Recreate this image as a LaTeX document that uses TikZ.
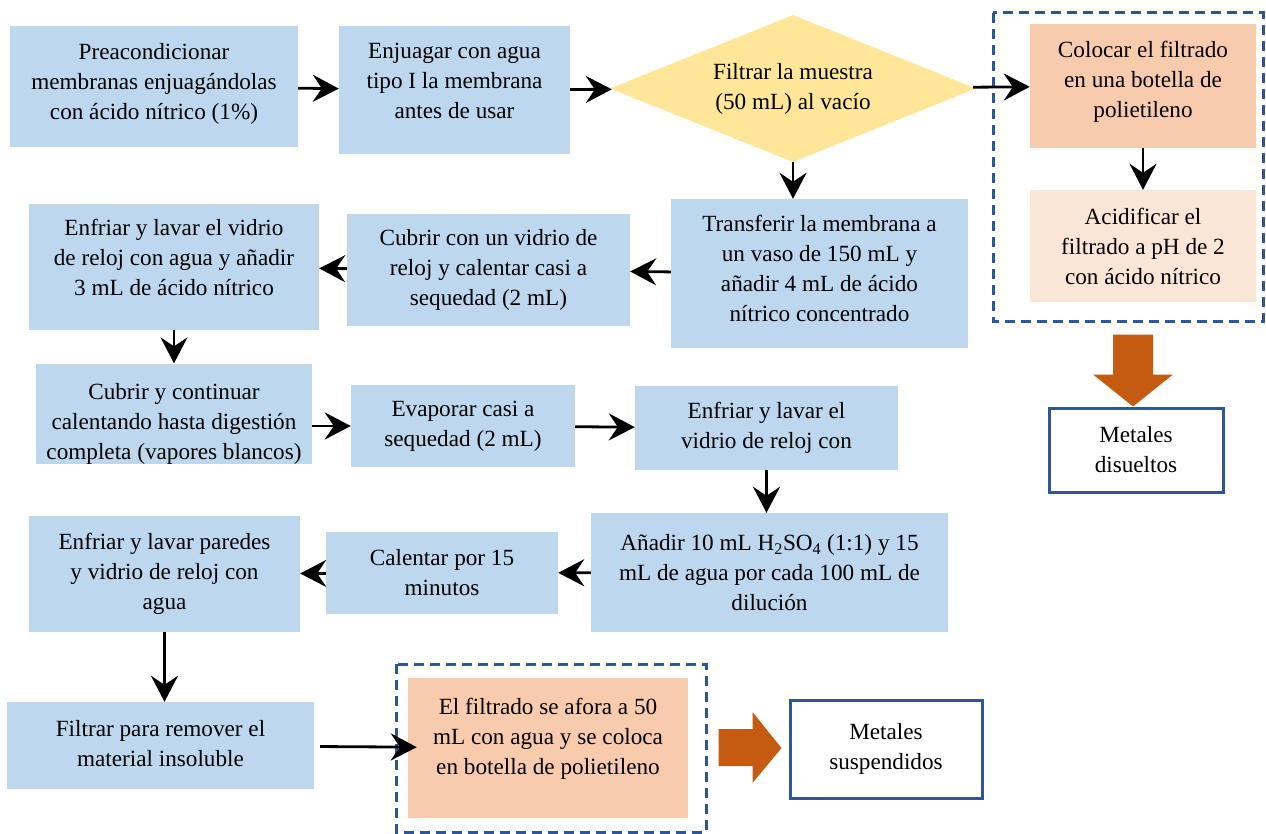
\documentclass[tikz,border=0pt]{standalone}
\usepackage{fontspec}
\setmainfont{Liberation Serif}
\usepackage{xcolor}
\usetikzlibrary{arrows.meta}
\usetikzlibrary{shapes.geometric}
\usetikzlibrary{positioning}

\definecolor{azul}{HTML}{BDD7EE}
\definecolor{amarillo}{HTML}{FFE699}
\definecolor{salmon}{HTML}{F8CBAD}
\definecolor{salmonclaro}{HTML}{FBE5D6}
\definecolor{naranja}{HTML}{C55A11}
\definecolor{marino}{HTML}{2F5597}

% extra depth under the last line pushes the text up in its box
\newcommand{\bajo}[1]{\rule[-#1]{0pt}{#1}}

\tikzset{
  tam/.style 2 args={minimum width=#1pt, minimum height=#2pt},
  paso/.style={fill=azul, align=center, inner sep=0pt},
  muestra/.style={fill=salmon, align=center, inner sep=0pt},
  acido/.style={fill=salmonclaro, align=center, inner sep=0pt},
  metal/.style={draw=marino, line width=3pt, fill=white, align=center, inner sep=0pt},
  marco/.style={draw=marino, line width=3pt, dash pattern=on 10pt off 6pt},
  flecha/.style={-{Stealth[length=26pt,width=27pt,inset=9pt]}, line width=2.8pt},
}

\begin{document}
\begin{tikzpicture}[x=1pt, y=-1pt, font=\fontsize{23.2}{30}\selectfont]
\useasboundingbox (0,0) rectangle (1266,834);

% first row
\node[paso, tam={288}{121}] (precond) at (154,86.5)
  {Preacondicionar\\membranas enjuagándolas\\con ácido nítrico (1\%)\bajo{11pt}};
\node[paso, tam={231}{128}] (enjuagar) at (454.5,90)
  {Enjuagar con agua\\tipo I la membrana\\antes de usar\bajo{18pt}};
\node[diamond, fill=amarillo, aspect=2.49, tam={366}{147}, inner sep=0pt, align=center] (filtrar) at (793,88.5)
  {Filtrar la muestra\\(50 mL) al vacío};

% dissolved metals
\draw[marco] (993,13) rectangle (1263,321);
\node[muestra, tam={226}{124}] (colocar) at (1143,86)
  {Colocar el filtrado\\en una botella de\\polietileno\bajo{13pt}};
\node[acido, tam={226}{112}] (acidificar) at (1143,246)
  {Acidificar el\\filtrado a pH de 2\\con ácido nítrico};
\node[metal, tam={174}{84}] (disueltos) at (1136,450) {Metales\\disueltos};

% digestion
\node[paso, tam={297}{149}] (transferir) at (819.5,273.5)
  {Transferir la membrana a\\un vaso de 150 mL y\\añadir 4 mL de ácido\\nítrico concentrado\bajo{10pt}};
\node[paso, tam={283}{112}] (cubrir) at (488.5,270)
  {Cubrir con un vidrio de\\reloj y calentar casi a\\sequedad (2 mL)};
\node[paso, tam={290}{126}] (enfriarA) at (174,267)
  {Enfriar y lavar el vidrio\\de reloj con agua y añadir\\3 mL de ácido nítrico\bajo{20pt}};
\node[paso, tam={276}{96}] (continuar) at (174,414)
  {\rule{0pt}{36pt}Cubrir y continuar\\calentando hasta digestión\\completa (vapores blancos)};
\node[paso, tam={224}{82}] (evaporar) at (463,426)
  {Evaporar casi a\\sequedad (2 mL)};
\node[paso, tam={263}{84}] (enfriarB) at (766.5,428)
  {Enfriar y lavar el\\vidrio de reloj con};
\node[paso, tam={357}{119}] (anadir) at (769.5,572.5)
  {Añadir 10 mL H\textsubscript{2}SO\textsubscript{4} (1:1) y 15\\mL de agua por cada 100 mL de\\dilución};
\node[paso, tam={232}{82}] (calentar) at (442,573)
  {Calentar por 15\\minutos};
\node[paso, tam={271}{116}] (enfriarC) at (164.5,574)
  {Enfriar y lavar paredes\\y vidrio de reloj con\\agua};
\node[paso, tam={307}{87}] (filtrarB) at (160.5,745.5)
  {Filtrar para remover el\\material insoluble\bajo{4pt}};

% suspended metals
\draw[marco] (396,664) rectangle (706,832);
\node[muestra, tam={280}{140}] (aforo) at (548,748)
  {El filtrado se afora a 50\\mL con agua y se coloca\\en botella de polietileno\bajo{23pt}};
\node[metal, tam={192}{98}] (suspendidos) at (886,749) {Metales\\suspendidos};

% connectors
\draw[flecha] (precond) -- (enjuagar);
\draw[flecha] (enjuagar) -- (filtrar);
\draw[flecha] (filtrar) -- (colocar);
\draw[flecha] (filtrar.south) -- (filtrar.south |- transferir.north);
\draw[flecha] (colocar) -- (acidificar);
\draw[flecha] (transferir) -- (cubrir);
\draw[flecha] (cubrir) -- (enfriarA);
\draw[flecha] (enfriarA) -- (continuar);
\draw[flecha] (continuar.east |- evaporar.west) -- (evaporar.west);
\draw[flecha] (evaporar) -- (enfriarB);
\draw[flecha] (enfriarB.south) -- (enfriarB.south |- anadir.north);
\draw[flecha] (anadir) -- (calentar);
\draw[flecha] (calentar) -- (enfriarC);
\draw[flecha] (enfriarC.south) -- (enfriarC.south |- filtrarB.north);
\draw[flecha, shorten <=6pt, shorten >=-9pt] (filtrarB) -- (aforo);

% block arrows
\fill[naranja, shift={(disueltos.north)}, xshift=-3pt]
  (-20,-72) -- (20,-72) -- (20,-32) -- (40,-32)
  -- (0,0) -- (-40,-32) -- (-20,-32) -- cycle;
\fill[naranja, shift={(suspendidos.west)}, xshift=-7pt, yshift=1pt]
  (-63,-19) -- (-29,-19) -- (-29,-36) -- (0,0)
  -- (-29,35) -- (-29,18) -- (-63,18) -- cycle;
\end{tikzpicture}
\end{document}
